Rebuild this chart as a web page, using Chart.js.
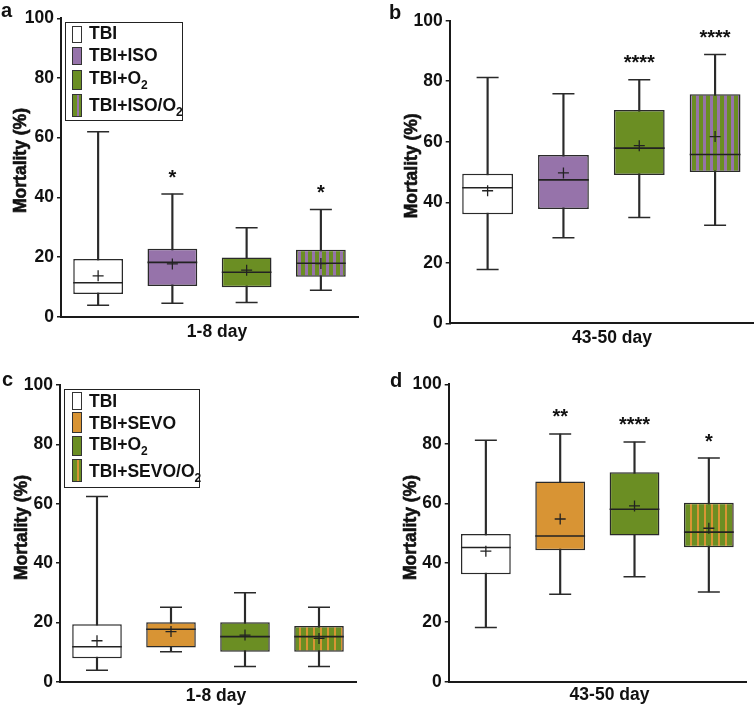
<!DOCTYPE html>
<html>
<head>
<meta charset="utf-8">
<script src="https://cdn.jsdelivr.net/npm/chart.js@4.4.1/dist/chart.umd.min.js"></script>
<style>
  html, body { margin: 0; padding: 0; background: #fff; }
  #page { position: relative; width: 754px; height: 705px; font-family: "Liberation Sans", Arial, sans-serif; color: #111; }
  canvas { position: absolute; }
  .tag { position: absolute; font-weight: bold; font-size: 20px; line-height: 20px; }
  .legend { position: absolute; border: 1.5px solid #222; box-sizing: border-box; background: #fff; }
  .sw { position: absolute; width: 10px; border: 1.5px solid #333; box-sizing: border-box; }
  .lt { position: absolute; left: 89px; font-weight: bold; font-size: 17.5px; line-height: 17.5px; white-space: nowrap; }
  .lt sub { font-size: 12px; vertical-align: baseline; position: relative; top: 5px; }
</style>
</head>
<body>
<div id="page">
  <canvas id="pa" width="377" height="350" style="left:0;top:0"></canvas>
  <canvas id="pb" width="377" height="350" style="left:377px;top:0"></canvas>
  <canvas id="pc" width="377" height="355" style="left:0;top:350px"></canvas>
  <canvas id="pd" width="377" height="355" style="left:377px;top:350px"></canvas>

  <div class="tag" style="left:1px;top:0px">a</div>
  <div class="tag" style="left:389px;top:2px">b</div>
  <div class="tag" style="left:2px;top:369px">c</div>
  <div class="tag" style="left:390px;top:370px">d</div>

  <!-- legend a -->
  <div class="legend" style="left:65px;top:22px;width:118px;height:99px"></div>
  <div class="sw" style="left:72px;top:26px;height:17px;background:#fff"></div>
  <div class="sw" style="left:72px;top:46.5px;height:18px;background:#9673AA"></div>
  <div class="sw" style="left:72px;top:69.5px;height:20.5px;background:#6B8E23"></div>
  <div class="sw" style="left:72px;top:94px;height:22.5px;background:linear-gradient(to right,#6B8E23 0 4px,#9673AA 4px 6px,#6B8E23 6px)"></div>
  <div class="lt" style="top:25.2px">TBI</div>
  <div class="lt" style="top:46.9px">TBI+ISO</div>
  <div class="lt" style="top:70.2px">TBI+O<sub>2</sub></div>
  <div class="lt" style="top:96.9px">TBI+ISO/O<sub>2</sub></div>

  <!-- legend c -->
  <div class="legend" style="left:64px;top:389px;width:136px;height:99px"></div>
  <div class="sw" style="left:72px;top:392.3px;height:17.7px;background:#fff"></div>
  <div class="sw" style="left:72px;top:411.7px;height:21.6px;background:#D89434"></div>
  <div class="sw" style="left:72px;top:435.7px;height:20.3px;background:#6B8E23"></div>
  <div class="sw" style="left:72px;top:459px;height:22.7px;background:linear-gradient(to right,#6B8E23 0 4px,#D89434 4px 6px,#6B8E23 6px)"></div>
  <div class="lt" style="top:392.5px">TBI</div>
  <div class="lt" style="top:414.5px">TBI+SEVO</div>
  <div class="lt" style="top:436.2px">TBI+O<sub>2</sub></div>
  <div class="lt" style="top:462.9px">TBI+SEVO/O<sub>2</sub></div>
</div>

<script>
// groups and titles
const groupsIso = ['TBI', 'TBI+ISO', 'TBI+O2', 'TBI+ISO/O2'];
const groupsSevo = ['TBI', 'TBI+SEVO', 'TBI+O2', 'TBI+SEVO/O2'];
const earlyTitle = '1-8 day';
const lateTitle = '43-50 day';
const yTitle = 'Mortality (%)';
const yMin = 0, yMax = 100, yStep = 20;

// a: ISO, 1-8 day
const aMin  = [3.8, 4.5, 4.8, 8.9];
const aQ1   = [7.6, 10.3, 9.9, 13.4];
const aMed  = [11.4, 18.2, 14.9, 17.9];
const aQ3   = [19.3, 22.8, 19.8, 22.4];
const aMax  = [62.0, 41.1, 29.8, 35.9];
const aMean = [13.7, 17.7, 15.6, 17.8];
const aStars = ['', '*', '', '*'];

// b: ISO, 43-50 day
const bMin  = [17.8, 28.3, 35.0, 32.4];
const bQ1   = [36.0, 37.8, 49.0, 50.0];
const bMed  = [44.8, 47.4, 57.9, 55.8];
const bQ3   = [49.4, 55.6, 70.5, 75.7];
const bMax  = [81.2, 75.9, 80.5, 88.8];
const bMean = [43.8, 49.7, 58.7, 61.7];
const bStars = ['', '', '****', '****'];

// c: SEVO, 1-8 day
const cMin  = [3.9, 10.1, 5.1, 5.1];
const cQ1   = [7.9, 11.5, 10.1, 10.1];
const cMed  = [11.8, 17.7, 15.2, 15.2];
const cQ3   = [19.4, 20.0, 20.0, 18.8];
const cMax  = [62.4, 25.1, 30.0, 25.1];
const cMean = [13.8, 16.9, 15.7, 14.6];
const cStars = ['', '', '', ''];

// d: SEVO, 43-50 day
const dMin  = [18.2, 29.4, 35.3, 30.2];
const dQ1   = [36.1, 44.2, 49.2, 45.2];
const dMed  = [45.1, 49.0, 58.0, 50.3];
const dQ3   = [49.7, 67.3, 70.4, 60.2];
const dMax  = [81.2, 83.3, 80.6, 75.2];
const dMean = [43.9, 54.7, 59.1, 51.6];
const dStars = ['', '**', '****', '*'];

const FONT = '"Liberation Sans", Arial, sans-serif';
const INK = '#222';
const EDGE = '#2a2a2a';
const PURPLE = '#9673AA', GREEN = '#6B8E23', ORANGE = '#D89434';
const BOX = 0.67;

Chart.defaults.font.family = FONT;
Chart.defaults.color = '#111';

function stripes(base, stripe, baseW, stripeW) {
    const c = document.createElement('canvas');
    c.width = baseW + stripeW;
    c.height = 4;
    const g = c.getContext('2d');
    g.fillStyle = base;
    g.fillRect(0, 0, baseW, 4);
    g.fillStyle = stripe;
    g.fillRect(baseW, 0, stripeW, 4);
    return g.createPattern(c, 'repeat');
}

const isoFills = ['#ffffff', PURPLE, GREEN, stripes(GREEN, PURPLE, 4, 3)];
const sevoFills = ['#ffffff', ORANGE, GREEN, stripes(GREEN, ORANGE, 5, 2)];

function boxPanel(id, labels, s, fills, xTitle, geo) {
    const cv = document.getElementById(id);
    const W = cv.width, H = cv.height;
    const halfBox = c => c.chart.chartArea ? c.chart.chartArea.width / labels.length * BOX / 2 : 25;

    // axis titles and significance stars
    const marks = {
        id: 'marks',
        afterDraw(chart) {
            const ctx = chart.ctx;
            const x = chart.scales.x, y = chart.scales.y;
            ctx.save();
            ctx.fillStyle = '#111';
            ctx.strokeStyle = '#111';
            ctx.textAlign = 'center';
            ctx.font = 'bold 20px ' + FONT;
            ctx.textBaseline = 'alphabetic';
            s.stars.forEach((st, i) => {
                if (st) ctx.fillText(st, x.getPixelForValue(i), y.getPixelForValue(s.max[i]) - 10.5);
            });
            ctx.font = 'bold 17.5px ' + FONT;
            ctx.textBaseline = 'middle';
            ctx.fillText(xTitle, geo.xt[0], geo.xt[1]);
            ctx.translate(geo.yt[0], geo.yt[1]);
            ctx.rotate(-Math.PI / 2);
            ctx.lineWidth = 0.6;
            ctx.fillText(yTitle, 0, 0);
            ctx.strokeText(yTitle, 0, 0);
            ctx.restore();
        }
    };

    return new Chart(cv, {
        type: 'bar',
        data: {
            labels: labels,
            datasets: [
                {
                    label: 'whisker',
                    data: s.min.map((v, i) => [v, s.max[i]]),
                    backgroundColor: EDGE,
                    barThickness: 1.5,
                    grouped: false,
                    order: 5
                },
                {
                    label: 'box',
                    data: s.q1.map((v, i) => [v, s.q3[i]]),
                    backgroundColor: fills,
                    borderColor: EDGE,
                    borderWidth: 1.5,
                    borderSkipped: false,
                    barPercentage: BOX,
                    categoryPercentage: 1,
                    grouped: false,
                    order: 4
                },
                {
                    type: 'line', label: 'low cap', data: s.min, showLine: false,
                    pointStyle: 'line', pointRadius: 11, pointBorderColor: EDGE, pointBorderWidth: 1.5, order: 3
                },
                {
                    type: 'line', label: 'high cap', data: s.max, showLine: false,
                    pointStyle: 'line', pointRadius: 11, pointBorderColor: EDGE, pointBorderWidth: 1.5, order: 2
                },
                {
                    type: 'line', label: 'median', data: s.med, showLine: false,
                    pointStyle: 'line', pointRadius: halfBox, pointBorderColor: INK, pointBorderWidth: 1.6, order: 1
                },
                {
                    type: 'line', label: 'mean', data: s.mean, showLine: false,
                    pointStyle: 'cross', pointRadius: 5.5, pointBorderColor: INK, pointBorderWidth: 1.3, order: 0
                }
            ]
        },
        options: {
            responsive: false,
            animation: false,
            events: [],
            layout: { autoPadding: false, padding: { left: 0, right: W - geo.right, top: geo.top, bottom: 0 } },
            plugins: { legend: { display: false }, tooltip: { enabled: false } },
            scales: {
                x: {
                    grid: { display: false },
                    border: { display: true, color: '#1a1a1a', width: 2 },
                    ticks: { display: false },
                    afterFit: sc => { sc.height = H - geo.bottom; }
                },
                y: {
                    min: yMin,
                    max: yMax,
                    ticks: { stepSize: yStep, padding: 3, color: '#111', font: { size: 17.5, weight: 'bold' } },
                    grid: { drawOnChartArea: false, drawTicks: true, tickLength: 4, color: '#1a1a1a', lineWidth: 1.5 },
                    border: { display: true, color: '#1a1a1a', width: 2 },
                    afterFit: sc => { sc.width = geo.left; }
                }
            }
        },
        plugins: [marks]
    });
}

boxPanel('pa', groupsIso,
    { min: aMin, q1: aQ1, med: aMed, q3: aQ3, max: aMax, mean: aMean, stars: aStars },
    isoFills, earlyTitle,
    { left: 61, right: 358, top: 18.3, bottom: 316.7, xt: [217, 332], yt: [21, 160.5] });

boxPanel('pb', groupsIso,
    { min: bMin, q1: bQ1, med: bMed, q3: bQ3, max: bMax, mean: bMean, stars: bStars },
    isoFills, lateTitle,
    { left: 72.7, right: 376, top: 20.7, bottom: 323.3, xt: [235, 338], yt: [35, 165.8] });

boxPanel('pc', groupsSevo,
    { min: cMin, q1: cQ1, med: cMed, q3: cQ3, max: cMax, mean: cMean, stars: cStars },
    sevoFills, earlyTitle,
    { left: 60, right: 356, top: 35, bottom: 331.7, xt: [216, 345.7], yt: [21.7, 177.5] });

boxPanel('pd', groupsSevo,
    { min: dMin, q1: dQ1, med: dMed, q3: dQ3, max: dMax, mean: dMean, stars: dStars },
    sevoFills, lateTitle,
    { left: 71.7, right: 369, top: 34.3, bottom: 331.7, xt: [232.5, 345], yt: [33.7, 177.5] });
</script>
</body>
</html>
